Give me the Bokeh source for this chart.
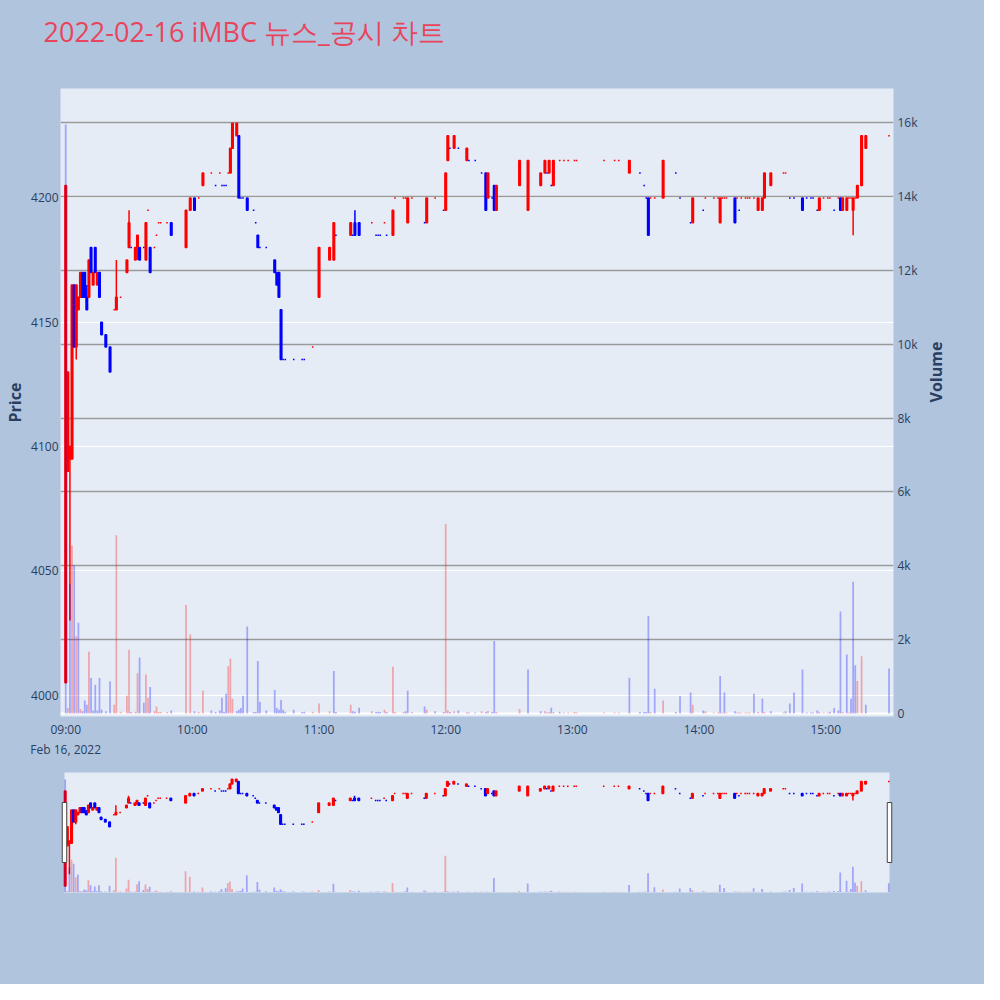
import math
import numpy as np
import pandas as pd
from bokeh.plotting import figure
from bokeh.models import (Range1d, LinearAxis, FixedTicker, NumeralTickFormatter,
                          DatetimeTickFormatter, Grid, Span, ColumnDataSource)
from bokeh.layouts import column
from bokeh.embed import file_html
from bokeh.resources import INLINE

chart_title = "2022-02-16 iMBC 뉴스_공시 차트"
session_open = "2022-02-16 09:00:00"

minutes_after_open = [
    0, 1, 2, 3, 4, 5, 6, 7, 8, 9,
    10, 11, 12, 13, 14, 15, 16, 17, 19, 21,
    23, 24, 26, 29, 30, 31, 33, 34, 35, 37,
    38, 39, 40, 42, 43, 44, 45, 48, 50, 57,
    59, 61, 63, 65, 69, 71, 73, 74, 75, 76,
    77, 78, 79, 81, 82, 83, 84, 86, 89, 90,
    91, 92, 95, 99, 100, 101, 102, 103, 104, 108,
    112, 113, 117, 120, 125, 127, 128, 135, 136, 137,
    139, 145, 147, 148, 149, 151, 152, 155, 156, 160,
    161, 162, 164, 170, 171, 175, 179, 180, 181, 182,
    184, 186, 190, 191, 194, 197, 199, 200, 202, 203,
    204, 215, 219, 225, 227, 228, 229, 230, 231, 234,
    236, 238, 241, 242, 255, 260, 262, 267, 272, 274,
    275, 276, 277, 279, 283, 289, 291, 296, 297, 302,
    303, 307, 309, 310, 311, 312, 313, 317, 318, 319,
    320, 322, 323, 324, 326, 328, 330, 331, 334, 340,
    341, 343, 345, 349, 351, 353, 354, 356, 357, 359,
    361, 362, 364, 366, 367, 368, 370, 371, 372, 373,
    374, 375, 377, 379, 390]

opens = [
    4005, 4090, 4095, 4095, 4165, 4140, 4155, 4160, 4170, 4170,
    4160, 4160, 4180, 4165, 4180, 4165, 4170, 4150, 4145, 4140,
    4155, 4155, 4160, 4170, 4180, 4180, 4175, 4180, 4180, 4180,
    4175, 4195, 4180, 4180, 4185, 4190, 4190, 4190, 4190, 4180,
    4195, 4200, 4200, 4205, 4210, 4205, 4210, 4205, 4205, 4205,
    4210, 4210, 4220, 4225, 4225, 4200, 4200, 4200, 4195, 4190,
    4185, 4180, 4180, 4175, 4170, 4170, 4155, 4135, 4135, 4135,
    4135, 4135, 4140, 4160, 4175, 4175, 4185, 4185, 4185, 4190,
    4190, 4190, 4185, 4185, 4185, 4190, 4185, 4185, 4200, 4200,
    4200, 4190, 4200, 4190, 4190, 4200, 4195, 4195, 4215, 4220,
    4220, 4220, 4215, 4215, 4215, 4210, 4210, 4200, 4200, 4205,
    4195, 4205, 4195, 4205, 4210, 4210, 4210, 4205, 4205, 4215,
    4215, 4215, 4215, 4215, 4215, 4215, 4215, 4210, 4210, 4205,
    4200, 4200, 4200, 4200, 4200, 4210, 4200, 4190, 4190, 4195,
    4200, 4200, 4200, 4190, 4200, 4200, 4200, 4200, 4200, 4195,
    4200, 4200, 4200, 4200, 4200, 4195, 4195, 4200, 4205, 4210,
    4210, 4200, 4200, 4200, 4200, 4200, 4200, 4195, 4195, 4200,
    4200, 4200, 4195, 4200, 4200, 4195, 4195, 4200, 4200, 4195,
    4200, 4200, 4205, 4220, 4225]

highs = [
    4205, 4130, 4100, 4165, 4165, 4165, 4160, 4170, 4170, 4170,
    4165, 4175, 4180, 4170, 4180, 4170, 4170, 4150, 4145, 4140,
    4155, 4175, 4160, 4175, 4195, 4180, 4180, 4185, 4180, 4180,
    4190, 4195, 4180, 4180, 4185, 4190, 4190, 4190, 4190, 4195,
    4200, 4200, 4200, 4210, 4210, 4205, 4210, 4205, 4205, 4205,
    4210, 4220, 4230, 4230, 4225, 4200, 4200, 4200, 4195, 4190,
    4185, 4180, 4180, 4175, 4170, 4170, 4155, 4135, 4135, 4135,
    4135, 4135, 4140, 4180, 4180, 4190, 4185, 4190, 4185, 4195,
    4190, 4190, 4185, 4185, 4185, 4190, 4185, 4195, 4200, 4200,
    4200, 4200, 4200, 4190, 4200, 4200, 4195, 4210, 4225, 4220,
    4225, 4220, 4220, 4215, 4215, 4210, 4210, 4210, 4200, 4205,
    4205, 4215, 4215, 4210, 4215, 4210, 4215, 4205, 4215, 4215,
    4215, 4215, 4215, 4215, 4215, 4215, 4215, 4215, 4210, 4205,
    4200, 4200, 4200, 4200, 4215, 4210, 4200, 4190, 4200, 4195,
    4200, 4200, 4200, 4200, 4200, 4200, 4200, 4200, 4200, 4195,
    4200, 4200, 4200, 4200, 4200, 4200, 4200, 4210, 4210, 4210,
    4210, 4200, 4200, 4200, 4200, 4200, 4200, 4195, 4200, 4200,
    4200, 4200, 4195, 4200, 4200, 4200, 4200, 4200, 4200, 4200,
    4200, 4205, 4225, 4225, 4225]

lows = [
    4005, 4090, 4030, 4095, 4140, 4135, 4155, 4160, 4160, 4160,
    4155, 4160, 4170, 4165, 4170, 4165, 4160, 4145, 4140, 4130,
    4155, 4155, 4160, 4170, 4180, 4180, 4175, 4175, 4175, 4180,
    4175, 4195, 4170, 4180, 4185, 4190, 4190, 4190, 4185, 4180,
    4195, 4195, 4200, 4205, 4210, 4205, 4210, 4205, 4205, 4205,
    4210, 4210, 4220, 4225, 4200, 4200, 4200, 4195, 4195, 4190,
    4180, 4180, 4180, 4170, 4165, 4160, 4135, 4135, 4135, 4135,
    4135, 4135, 4140, 4160, 4175, 4175, 4185, 4185, 4185, 4185,
    4185, 4190, 4185, 4185, 4185, 4190, 4185, 4185, 4200, 4200,
    4200, 4190, 4200, 4190, 4190, 4200, 4195, 4195, 4215, 4220,
    4220, 4220, 4215, 4215, 4215, 4210, 4195, 4200, 4200, 4195,
    4195, 4205, 4195, 4205, 4210, 4210, 4210, 4205, 4205, 4215,
    4215, 4215, 4215, 4215, 4215, 4215, 4215, 4210, 4210, 4205,
    4200, 4185, 4200, 4200, 4200, 4210, 4200, 4190, 4190, 4195,
    4200, 4200, 4200, 4190, 4200, 4200, 4200, 4190, 4200, 4195,
    4200, 4200, 4200, 4200, 4200, 4195, 4195, 4200, 4205, 4210,
    4210, 4200, 4200, 4195, 4200, 4200, 4200, 4195, 4195, 4200,
    4200, 4200, 4195, 4200, 4195, 4195, 4195, 4200, 4200, 4185,
    4200, 4200, 4205, 4220, 4225]

closes = [
    4205, 4130, 4100, 4165, 4140, 4165, 4160, 4170, 4160, 4160,
    4155, 4175, 4170, 4170, 4170, 4170, 4160, 4145, 4140, 4130,
    4155, 4160, 4160, 4175, 4190, 4180, 4180, 4185, 4175, 4180,
    4190, 4195, 4170, 4180, 4185, 4190, 4190, 4190, 4185, 4195,
    4200, 4195, 4200, 4210, 4210, 4205, 4210, 4205, 4205, 4205,
    4210, 4220, 4230, 4230, 4200, 4200, 4200, 4195, 4195, 4190,
    4180, 4180, 4180, 4170, 4165, 4160, 4135, 4135, 4135, 4135,
    4135, 4135, 4140, 4180, 4180, 4190, 4185, 4190, 4185, 4185,
    4185, 4190, 4185, 4185, 4185, 4190, 4185, 4195, 4200, 4200,
    4200, 4200, 4200, 4190, 4200, 4200, 4195, 4210, 4225, 4220,
    4225, 4220, 4220, 4215, 4215, 4210, 4195, 4210, 4200, 4195,
    4205, 4215, 4215, 4210, 4215, 4210, 4215, 4205, 4215, 4215,
    4215, 4215, 4215, 4215, 4215, 4215, 4215, 4215, 4210, 4205,
    4200, 4185, 4200, 4200, 4215, 4210, 4200, 4190, 4200, 4195,
    4200, 4200, 4200, 4200, 4200, 4200, 4200, 4190, 4200, 4195,
    4200, 4200, 4200, 4200, 4200, 4200, 4200, 4210, 4210, 4210,
    4210, 4200, 4200, 4195, 4200, 4200, 4200, 4195, 4200, 4200,
    4200, 4200, 4195, 4200, 4195, 4200, 4200, 4200, 4200, 4200,
    4200, 4205, 4225, 4225, 4225]

volumes = [
    15950, 150, 3510, 4550, 4010, 2090, 2460, 120, 60, 350,
    240, 1670, 960, 80, 780, 80, 960, 100, 60, 870,
    240, 4830, 50, 480, 1730, 40, 50, 1090, 1520, 290,
    1060, 430, 720, 60, 190, 40, 40, 40, 80, 2940,
    2140, 60, 40, 615, 80, 40, 80, 430, 40, 535,
    1280, 1490, 400, 60, 100, 150, 480, 2355, 40, 40,
    1420, 310, 80, 640, 150, 100, 370, 100, 50, 100,
    40, 50, 50, 270, 60, 1150, 40, 240, 60, 50,
    160, 60, 40, 50, 40, 100, 40, 1270, 40, 40,
    60, 615, 40, 190, 100, 60, 40, 5140, 90, 40,
    60, 80, 40, 30, 30, 60, 40, 70, 40, 1965,
    40, 120, 1190, 60, 60, 30, 40, 160, 40, 50,
    30, 30, 40, 30, 30, 30, 30, 970, 40, 40,
    40, 2640, 40, 670, 350, 40, 470, 570, 240, 80,
    60, 30, 30, 1020, 30, 570, 30, 60, 30, 30,
    30, 30, 30, 30, 535, 40, 410, 40, 60, 30,
    60, 270, 570, 1190, 30, 30, 30, 80, 40, 30,
    30, 50, 150, 80, 2760, 40, 1600, 30, 400, 3570,
    1310, 880, 1550, 240, 1220]

# 1 = traded up (red), 0 = traded down (blue)
candle_up = [
    1, 1, 1, 1, 0, 1, 1, 1, 0, 0,
    0, 1, 0, 1, 0, 1, 0, 0, 0, 0,
    1, 1, 1, 1, 1, 0, 1, 1, 0, 0,
    1, 1, 0, 1, 1, 1, 1, 1, 0, 1,
    1, 0, 1, 1, 1, 0, 1, 0, 0, 0,
    1, 1, 1, 1, 0, 0, 0, 0, 0, 0,
    0, 0, 0, 0, 0, 0, 0, 0, 0, 0,
    0, 0, 1, 1, 1, 1, 0, 1, 0, 0,
    0, 1, 0, 0, 0, 1, 0, 1, 1, 1,
    1, 1, 1, 0, 1, 1, 0, 1, 1, 0,
    1, 0, 1, 0, 0, 0, 0, 1, 0, 0,
    1, 1, 1, 1, 1, 0, 1, 0, 1, 1,
    1, 1, 1, 1, 1, 1, 1, 1, 0, 0,
    0, 0, 1, 1, 1, 0, 0, 0, 1, 0,
    1, 1, 1, 1, 1, 1, 1, 0, 1, 0,
    1, 1, 1, 1, 1, 1, 1, 1, 1, 1,
    1, 0, 0, 0, 0, 0, 0, 0, 1, 1,
    1, 1, 0, 1, 0, 1, 1, 1, 1, 1,
    1, 1, 1, 1, 1]

volume_up = [
    0, 1, 0, 1, 0, 1, 0, 1, 0, 0,
    0, 1, 0, 0, 0, 0, 0, 0, 0, 0,
    1, 1, 1, 1, 1, 0, 1, 1, 0, 0,
    1, 1, 0, 1, 1, 1, 1, 1, 0, 1,
    1, 0, 1, 1, 0, 0, 0, 0, 0, 0,
    1, 1, 1, 0, 0, 0, 0, 0, 0, 0,
    0, 0, 0, 0, 0, 0, 0, 0, 0, 0,
    0, 0, 1, 1, 1, 0, 0, 1, 0, 0,
    0, 1, 0, 0, 0, 1, 0, 1, 1, 1,
    0, 0, 1, 0, 1, 0, 0, 1, 1, 0,
    1, 0, 1, 0, 0, 1, 0, 1, 0, 0,
    1, 1, 0, 0, 1, 0, 1, 0, 1, 0,
    1, 1, 1, 1, 1, 1, 1, 0, 0, 0,
    0, 0, 1, 0, 1, 0, 0, 0, 1, 0,
    1, 1, 1, 0, 1, 0, 1, 0, 1, 0,
    1, 1, 1, 1, 0, 1, 0, 1, 0, 1,
    0, 0, 0, 0, 0, 0, 0, 0, 1, 1,
    1, 0, 0, 0, 0, 1, 0, 1, 0, 0,
    0, 1, 1, 0, 0]

price_ticks = [4000, 4050, 4100, 4150, 4200]
volume_ticks = [0, 2000, 4000, 6000, 8000, 10000, 12000, 14000, 16000]
hour_ticks = ["09:00", "10:00", "11:00", "12:00", "13:00", "14:00", "15:00"]

# ---------------------------------------------------------------- styling
BG = "#B0C4DE"
PLOT_BG = "#E5ECF6"
TXT = "#2a3f5f"
FONT = "Open Sans"
UP = "#FF0000"
DOWN = "#0000FF"
MS = 1000.0
MIN = 60 * MS

t0 = pd.Timestamp(session_open).value / 1e6  # ms since epoch
t = np.array([t0 + m * MIN for m in minutes_after_open])
o = np.array(opens, float)
c = np.array(closes, float)
src = ColumnDataSource(dict(
    t=t, o=o, h=highs, l=lows, c=c,
    top=np.maximum(o, c), bot=np.minimum(o, c),
    v=volumes,
    cc=[UP if u else DOWN for u in candle_up],
    vc=[UP if u else DOWN for u in volume_up],
))

price_lo, price_hi = 3991.4, 4244.0
vol_lo, vol_hi = -80.0, 16925.0
x_lo = t0 - 148 * MS
x_hi = t0 + (6 * 3600 + 32 * 60 + 7) * MS

# ---------------------------------------------------------------- title strip
tf = figure(width=984, height=88, x_range=Range1d(0, 1), y_range=Range1d(0, 1),
            output_backend="svg", toolbar_location=None,
            background_fill_color=BG, border_fill_color=BG,
            min_border_left=60, min_border_right=91, min_border_top=0, min_border_bottom=0)
tf.outline_line_color = None
tf.axis.visible = False
tf.grid.visible = False
tf.title.text = chart_title
tf.title.text_font = FONT
tf.title.text_font_size = "27px"
tf.title.text_font_style = "normal"
tf.title.text_color = "#E8455C"
tf.title.align = "left"
tf.title.offset = -17
tf.title.standoff = 20

# ---------------------------------------------------------------- main chart
p = figure(width=984, height=672, x_axis_type="datetime",
           x_range=Range1d(x_lo, x_hi), y_range=Range1d(price_lo, price_hi),
           output_backend="svg", toolbar_location=None,
           background_fill_color=PLOT_BG, border_fill_color=BG,
           min_border_left=60, min_border_right=91, min_border_top=0,
           min_border_bottom=37)
p.outline_line_color = None
p.extra_y_ranges = {"vol": Range1d(vol_lo, vol_hi)}

# grids
p.xgrid.visible = False
p.ygrid.ticker = FixedTicker(ticks=price_ticks)
p.ygrid.grid_line_color = "white"
p.ygrid.grid_line_width = 1
vgrid = Grid(dimension=1, ticker=FixedTicker(ticks=volume_ticks[1:]),
             y_range_name="vol", grid_line_color="#9a9a9a", grid_line_width=1.3)
p.add_layout(vgrid)
p.add_layout(Span(location=0, dimension="width", y_range_name="vol",
                  line_color="white", line_width=2, level="underlay"))

# axes
hour_ms = [pd.Timestamp(session_open[:11] + h).value / 1e6 for h in hour_ticks]
xax = p.xaxis[0]
xax.ticker = FixedTicker(ticks=hour_ms)
xax.formatter = DatetimeTickFormatter(hours="%H:%M", hourmin="%H:%M", minutes="%H:%M",
                                      minsec="%H:%M", days="%H:%M",
                                      context="%b %d, %Y", context_which="start")
xax.major_label_standoff = 4

yax = p.yaxis[0]
yax.ticker = FixedTicker(ticks=price_ticks)
yax.axis_label = "Price"
yax.major_label_standoff = 2
yax.axis_label_standoff = 2

vax = LinearAxis(y_range_name="vol", ticker=FixedTicker(ticks=volume_ticks),
                 formatter=NumeralTickFormatter(format="0a"), axis_label="Volume")
vax.major_label_standoff = 4
vax.axis_label_standoff = 15
if "axis_label_orientation" in vax.properties():
    vax.axis_label_orientation = math.pi / 2
p.add_layout(vax, "right")

for ax in (xax, yax, vax):
    ax.axis_line_color = None
    ax.major_tick_line_color = None
    ax.minor_tick_line_color = None
    ax.major_tick_out = 0
    ax.major_tick_in = 0
    ax.major_label_text_font = FONT
    ax.major_label_text_font_size = "12px"
    ax.major_label_text_color = TXT
    ax.axis_label_text_font = FONT
    ax.axis_label_text_font_size = "16px"
    ax.axis_label_text_font_style = "bold"
    ax.axis_label_text_color = TXT


def draw_series(fig):
    fig.segment(x0="t", y0="h", x1="t", y1="l", line_color="cc", line_width=1.5, source=src)
    fig.vbar(x="t", width=45 * MS, top="top", bottom="bot", fill_color="cc",
             line_color="cc", line_width=1.5, source=src)
    fig.vbar(x="t", width=50 * MS, top="v", bottom=0, y_range_name="vol",
             fill_color="vc", fill_alpha=0.3, line_color=None, source=src)


draw_series(p)

# ---------------------------------------------------------------- range slider
xs_lo = t0 - 20 * MS
xs_hi = t0 + 390 * MIN + 20 * MS
ms_per_px = (xs_hi - xs_lo) / 825.0
p_per_px = (price_hi - price_lo) / 120.0
v_per_px = (vol_hi - vol_lo) / 120.0

s = figure(width=984, height=224, x_axis_type="datetime",
           x_range=Range1d(xs_lo - 4 * ms_per_px, xs_hi + 4 * ms_per_px),
           y_range=Range1d(price_lo - 4 * p_per_px, price_hi + 8 * p_per_px),
           output_backend="svg", toolbar_location=None,
           background_fill_color=BG, border_fill_color=BG,
           min_border_left=60, min_border_right=91, min_border_top=4, min_border_bottom=88)
s.extra_y_ranges = {"vol": Range1d(vol_lo - 4 * v_per_px, vol_hi + 8 * v_per_px)}
s.outline_line_color = None
s.axis.visible = False
s.grid.visible = False
s.quad(left=[xs_lo], right=[xs_hi], bottom=[price_lo], top=[price_hi],
       fill_color=PLOT_BG, line_color=None)
draw_series(s)
mid = (price_lo + price_hi) / 2
s.rect(x=[xs_lo, xs_hi], y=[mid, mid], width=4.5, height=60,
       width_units="screen", height_units="screen",
       fill_color="white", line_color="#444444", line_width=1)

layout = column(tf, p, s, spacing=0, styles={"background-color": BG})
open("out.html", "w").write(file_html(layout, INLINE))
